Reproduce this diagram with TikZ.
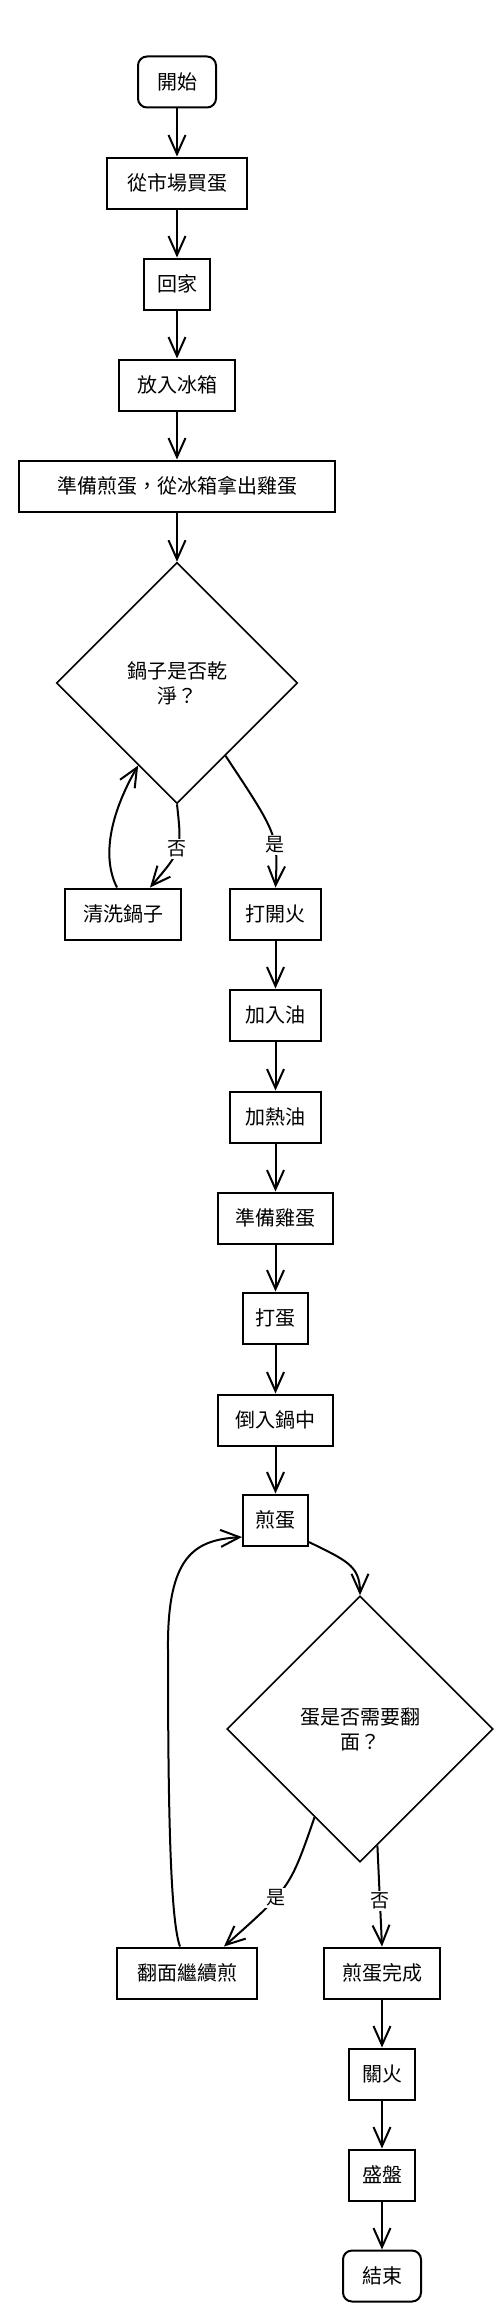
\documentclass[tikz,border=0pt]{standalone}
\usepackage{fontspec}
\setmainfont{Noto Sans CJK TC}
\usetikzlibrary{shapes.geometric,arrows.meta,calc}
\begin{document}
\begin{tikzpicture}[x=1pt,y=-1pt,
 box/.style={draw,line width=2pt,minimum height=51pt,inner sep=0pt,font=\fontsize{20}{24}\selectfont},
 term/.style={box,rounded corners=9pt},
 dec/.style={draw,diamond,aspect=1,line width=1.6pt,inner sep=0pt,align=center,font=\fontsize{20}{25}\selectfont},
 arr/.style={line width=2pt,-{Straight Barb[length=19pt,width=17pt,line width=2pt]}},
 lbl/.style={fill=white,inner sep=1.5pt,font=\fontsize{19}{21}\selectfont}]
\useasboundingbox (0,0) rectangle (502,2312);

\node[term,minimum width=78pt] (start) at (177,82) {開始};
\node[box,minimum width=140pt] (buy) at (177,183) {從市場買蛋};
\node[box,minimum width=66pt] (home) at (177,284) {回家};
\node[box,minimum width=116pt] (fridge) at (177,385) {放入冰箱};
\node[box,minimum width=316pt] (prep) at (177,486) {準備煎蛋，從冰箱拿出雞蛋};
\node[dec,minimum width=241pt,minimum height=241pt] (d1) at (177,683) {鍋子是否乾\\淨？};
\node[box,minimum width=116pt] (wash) at (123,914) {清洗鍋子};
\node[box,minimum width=91pt] (fire) at (275.5,914) {打開火};
\node[box,minimum width=91pt] (oil) at (275.5,1015) {加入油};
\node[box,minimum width=91pt] (heat) at (275.5,1117) {加熱油};
\node[box,minimum width=115pt] (prepegg) at (275.5,1218) {準備雞蛋};
\node[box,minimum width=65pt] (crack) at (275.5,1318) {打蛋};
\node[box,minimum width=115pt] (pour) at (275.5,1420) {倒入鍋中};
\node[box,minimum width=65pt] (fry) at (275.5,1520) {煎蛋};
\node[dec,minimum width=266pt,minimum height=266pt] (d2) at (360,1729) {蛋是否需要翻\\面？};
\node[box,minimum width=140pt] (flip) at (187,1973) {翻面繼續煎};
\node[box,minimum width=116pt] (done) at (382,1973) {煎蛋完成};
\node[box,minimum width=66pt] (off) at (382,2074) {關火};
\node[box,minimum width=66pt] (plate) at (382,2175) {盛盤};
\node[term,minimum width=78pt] (end) at (382,2276) {結束};

\draw[arr] (start) -- (buy);
\draw[arr] (buy) -- (home);
\draw[arr] (home) -- (fridge);
\draw[arr] (fridge) -- (prep);
\draw[arr] (prep) -- (d1);
\draw[arr] (d1.south) .. controls (182,850) .. ($(wash.north)+(27,0)$) node[lbl,pos=0.5] {否};
\draw[arr] ($(d1.east)!0.6!(d1.south)$) .. controls (278,835) .. (fire.north) node[lbl,pos=0.64] {是};
\draw[arr] ($(wash.north)+(-6,0)$) .. controls (98,850) and (118,800) .. ($(d1.west)!0.68!(d1.south)$);
\draw[arr] (fire) -- (oil);
\draw[arr] (oil) -- (heat);
\draw[arr] (heat) -- (prepegg);
\draw[arr] (prepegg) -- (crack);
\draw[arr] (crack) -- (pour);
\draw[arr] (pour) -- (fry);
\draw[arr] ($(fry.east)+(0,22)$) .. controls (345,1560) and (360,1565) .. (d2.north);
\draw[arr] ($(d2.west)!0.66!(d2.south)$) .. controls (290,1888) .. ($(flip.north)+(37,0)$) node[lbl,pos=0.62] {是};
\draw[arr] ($(d2.south)!0.13!(d2.east)$) -- (done.north) node[lbl,pos=0.55] {否};
\draw[arr] ($(flip.north)+(-7,0)$) .. controls (170,1920) and (168,1800) .. (168,1650) .. controls (167,1555) and (195,1540) .. ($(fry.west)+(0,17)$);
\draw[arr] (done) -- (off);
\draw[arr] (off) -- (plate);
\draw[arr] (plate) -- (end);
\end{tikzpicture}
\end{document}
